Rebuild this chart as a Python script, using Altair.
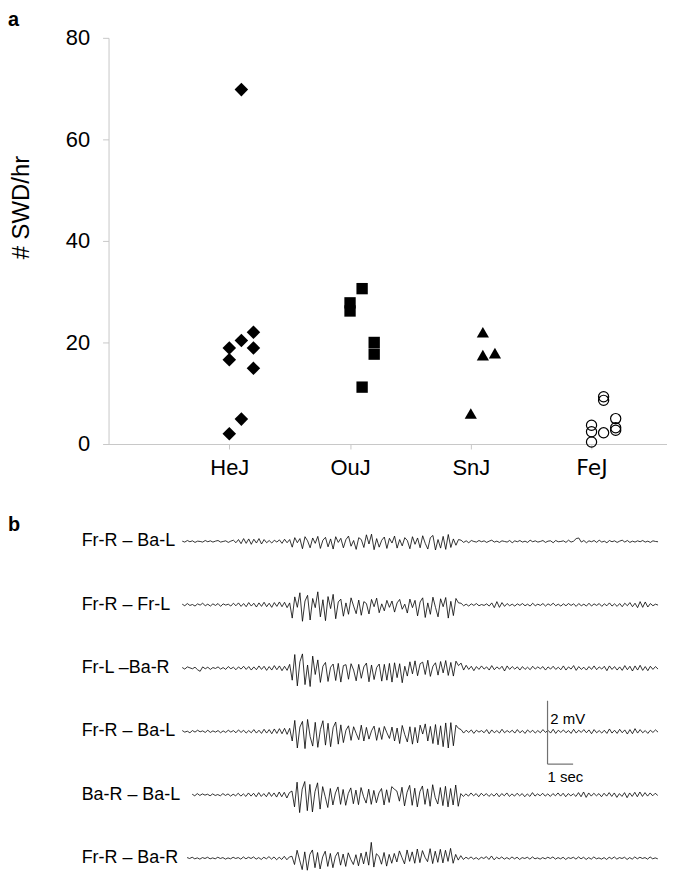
import altair as alt
import pandas as pd

# ---------------- panel a data ----------------
strains = ["HeJ", "OuJ", "SnJ", "FeJ"]
hej_swd = [69.8, 18.9, 20.4, 22.0, 16.6, 18.9, 14.9, 4.9, 2.0]
hej_jit = [0.1, 0.0, 0.1, 0.2, 0.0, 0.2, 0.2, 0.1, 0.0]
ouj_swd = [30.6, 27.8, 26.2, 20.0, 17.7, 11.2]
ouj_jit = [0.1, 0.0, 0.0, 0.2, 0.2, 0.1]
snj_swd = [22.0, 17.5, 17.9, 6.0]
snj_jit = [0.1, 0.1, 0.2, 0.0]
fej_swd = [9.3, 8.6, 5.0, 3.2, 2.7, 2.2, 3.7, 2.4, 0.4]
fej_jit = [0.1, 0.1, 0.2, 0.2, 0.2, 0.1, 0.0, 0.0, 0.0]

y_ticks = [0, 20, 40, 60, 80]

# ---------------- panel b data (EEG, microvolts, 10 samples / s) ----------------
channel_labels = ["Fr-R – Ba-L", "Fr-R – Fr-L", "Fr-L –Ba-R",
                  "Fr-R – Ba-L", "Ba-R – Ba-L", "Fr-R – Ba-R"]
channel_start_s = [0.0, 0.0, 0.0, 0.0, 0.39, 0.19]
sample_interval_s = 0.1

trace1 = [
    10, -20, 30, -10, 20, -30, 10, 0, -20, 30,
    -10, 20, -20, 10, 30, -20, 0, 20, -30, 10,
    40, -40, 60, -70, 90, -60, 80, -90, 70, -50,
    90, -80, 60, -40, 30, -50, 40, -20, 50, -60,
    70, -40,
    60, -180, 120, -40, 90, -230, 150, 20, -200, 110,
    -60, 160, -220, 40, 130, -170, 80, -240, 150, -30,
    100, -200, 60, 170, -150, 30, -250, 120, 60, -190,
    210, -80, 230, -260, 90, -180, 40, 140, -220, 100,
    -50, 170, -210, 60, -140, 120, 30, -230, 150, -90,
    110, -200, 180, -60, -240, 120, 190, -270, 60, -210,
    160, -250, 220, -190, 80, -120, 60,
    40, -30, 20, -40, 30, 0, -20, 30, -10, 20,
    -30, 10, 40, -20, 10, -30, 20, 0, -20, 30,
    -40, 20, -10, 30, -20, 10, -30, 40, -10, 20,
    -20, 0, 30, -30, 10, 20, -40, 30, -10, 0,
    20, -30, 40, -20, 10, 90, 110, -20, 30, -40,
    20, -10, 30, -30, 40, -20, 10, -40, 30, -10,
    20, -30, 10, 40, -20, 30, -30, 10, -20, 20,
    -10, 30, -20, 10, -30, 20, 0, -10,
]
trace2 = [
    20, -30, 40, -20, 10, -40, 30, -10, 50, -30,
    20, -40, 30, -20, 40, -50, 30, -10, 20, -40,
    50, -30, 60, -50, 40, -60, 70, -40, 50, -70,
    60, -50, 80, -60, 50, -80, 70, -50, 90, -60,
    80, -90,
    60, -420, 250, -80, 380, -520, 120, 300, -480, 200,
    -90, 410, -380, 160, -500, 260, -120, 330, -440, 90,
    180, -360, 60, -300, 220, -40, -280, 150, -330, 100,
    40, -290, 170, -60, 210, -250, 30, -190, 140, -80,
    120, -230, 60, 170, -140, 20, -260, 180, -90, 140,
    -350, 90, 220, -400, 60, -300, 240, -80, -380, 190,
    -60, 230, -420, 110, -340, 200, 60,
    50, -30, 20, -40, 30, -20, 40, -30, 10, -20,
    30, -40, 60, -90, 100, -80, 70, -50, 40, -30,
    20, -40, 30, -20, 40, -30, 20, -40, 50, -30,
    20, -20, 40, -40, 30, -20, 50, -30, 20, -40,
    30, -30, 40, -20, 30, -50, 40, -30, 20, -40,
    50, -40, 30, -20, 40, -50, 30, -30, 60, -40,
    30, -50, 40, -60, 50, -30, 70, -60, 50, -90,
    100, -80, 90, -70, 40, -30, 20, -10,
]
trace3 = [
    20, -30, 40, 10, -20, 30, -50, -100, 40, -20,
    30, -40, 20, -10, 40, -30, 20, -40, 50, -20,
    30, -50, 40, -30, 60, -40, 50, -60, 40, -50,
    70, -40, 60, -70, 50, -60, 80, -50, 70, -80,
    60, -70,
    120, -380, 430, -560, 200, 450, -520, 100, -580, 380,
    -200, 260, -450, 60, 180, -420, 30, 130, -390, 150,
    -440, 80, 110, -350, 140, -60, -400, 120, -320, 40,
    160, -430, 100, -360, 20, 130, -410, 120, -380, 150,
    -440, 170, -300, 140, -460, 60, -250, 200, -180, 230,
    -240, 140, 190, -200, 250, -260, 60, 170, -220, 210,
    -150, 240, -230, 180, -250, 220, 80,
    160, -60, 90, -40, 60, -80, 50, -40, 70, -30,
    40, -60, 80, -50, 40, -30, 60, -90, 70, -40,
    50, -30, 40, -60, 50, -40, 30, -50, 60, -30,
    40, -20, 50, -60, 40, -30, 60, -40, 30, -50,
    70, -60, 40, -30, 80, -70, 50, -40, 30, -60,
    50, -40, 70, -50, 40, -30, 60, -80, 70, -40,
    50, -60, 40, -70, 80, -50, 60, -90, 70, -60,
    90, -70, 50, -80, 60, -40, 50, -30,
]
trace4 = [
    30, -20, 10, -40, 30, -20, 40, -10, 20, -30,
    40, -30, 20, -20, 30, -40, 20, -30, 40, -20,
    30, -40, 50, -30, 40, -50, 30, -40, 60, -50,
    40, -60, 70, -50, 60, -70, 80, -60, 90, -70,
    100, -90,
    100, -300, 350, -520, 140, 320, -540, 380, -160, -460,
    290, -500, 60, 340, -430, 260, -480, 120, 300, -400,
    210, -350, 40, 180, -280, 150, -60, -260, 200, -300,
    130, -240, 20, 170, -280, 120, -250, 160, -40, -220,
    140, -300, 110, -380, 190, -100, -330, 150, -400, 130,
    -360, 200, -80, 240, -300, 160, -380, 220, -420, 180,
    -480, 270, -520, 280, -450, 200, 100,
    60, -50, 40, -30, 50, -60, 40, -20, 30, -40,
    60, -70, 50, -40, 30, -50, 70, -40, 30, -30,
    40, -50, 60, -40, 30, -60, 50, -30, 40, -50,
    30, -40, 60, -30, 40, -50, 70, -60, 40, -30,
    50, -40, 30, -60, 70, -50, 40, -30, 60, -40,
    50, -70, 60, -40, 30, -50, 40, -60, 80, -50,
    40, -60, 70, -40, 50, -80, 60, -70, 90, -50,
    60, -40, 30, -60, 40, -30, 50, -20,
]
trace5 = [
    20, -30, 40, -20, 30, -10, 20, -30, 30, -20,
    10, -30, 40, -20, 30, -40, 20, -30, 50, -40,
    30, -50, 60, -40, 50, -60, 70, -50, 40, -60,
    80, -50, 60, -70, 90, -60, 80, -100, 70,
    120, -380, 400, -560, 180, 420, -500, 330, -540, 100,
    380, -450, 260, -60, -400, 200, -320, 60, 250, -300,
    170, -330, 40, 220, -280, 150, -310, 230, -60, -260,
    180, -300, 140, -250, 60, 200, -320, 160, -240, 260,
    180, 120, -200, 240, -350, 80, 300, -330, 210, -380,
    100, 280, -300, 190, -360, 320, -90, -290, 230, -340,
    270, -380, 200, -320, 310, -360,
    40, -50, 30, -40, 60, -30, 40, -60, 50, -30,
    40, -50, 30, -40, 50, -60, 40, -30, 60, -50,
    30, -40, 50, -30, 40, -60, 30, -50, 70, -40,
    30, -30, 50, -40, 30, -50, 40, -30, 60, -40,
    50, -60, 40, -30, 30, -50, 70, -60, 90, -80,
    60, -40, 50, -30, 40, -60, 50, -40, 70, -50,
    60, -80, 40, -50, 70, -90, 60, -50, 80, -60,
    90, -50, 70, -40, 60, -30, 50, -20,
]
trace6 = [
    20, -10, 30, -20, 10, -30, 20, -10, 30, -20,
    10, -20, 30, -10, 20, -30, 10, -20, 30, -10,
    20, -30, 40, -20, 30, -10, 40, -30, 20, -40,
    30, -20, 50, -30, 40, -50, 30, -40, 60, -50,
    40,
    60, -200, 250, -60, -360, 200, -380, 120, 260, -300,
    180, -340, 40, 220, -260, 150, -300, 60, 190, -220,
    130, -260, 170, -40, -200, 110, -240, 160, -180, 200,
    -220, 500, -280, 140, 60, -190, 180, -250, 120, -160,
    150, -120, 230, 20, -180, 260, -100, 200, -160, 290,
    -140, 240, 30, -110, 300, -170, 220, -130, 280, -150,
    250, -100, 310, -160, 120, -60,
    80, -40, 30, -20, 40, -30, 20, -40, 30, -10,
    50, -40, 70, -50, 30, -20, 40, -30, 20, -30,
    40, -20, 30, -40, 20, -10, 30, -30, 40, -20,
    10, -30, 20, -20, 30, -10, 40, -30, 20, -20,
    30, -40, 20, -10, 30, -30, 40, -20, 30, -40,
    20, -30, 40, -20, 10, -30, 20, -40, 30, -20,
    40, -30, 20, -10, 30, -40, 20, -30, 40, -20,
    30, -10, 20, -30, 40, -20, 10, -20,
]
traces = [trace1, trace2, trace3, trace4, trace5, trace6]
channel_spacing_mv = 2.0

# scale bar: 2 mV x 1 s
bar_t0 = 14.28
bar_top_mv = -5.03
bar_len_mv = 2.0
bar_len_s = 1.0

FONT = "Liberation Sans"
AXIS_GRAY = "#c8c8c8"

# ---------------- panel a ----------------
def group_df(vals, jit, idx):
    return pd.DataFrame({"pos": [idx + 1 + j for j in jit], "swd": vals})

x_scale = alt.Scale(domain=[0, 4.625], nice=False, zero=False)
y_scale = alt.Scale(domain=[0, 80], nice=False)

x_axis = alt.Axis(
    values=[1, 2, 3, 4],
    labelExpr="['', 'HeJ', 'OuJ', 'SnJ', 'FeJ'][datum.value]",
    title=None, grid=False, domainColor=AXIS_GRAY, tickColor=AXIS_GRAY,
    tickSize=5, labelPadding=9, labelFontSize=22, labelColor="black",
    labelFont={"condition": {"test": "datum.value == 4", "value": "DejaVu Sans"},
               "value": FONT},
)
y_axis = alt.Axis(
    values=y_ticks, title="# SWD/hr", grid=False, domainColor=AXIS_GRAY,
    tickColor=AXIS_GRAY, tickSize=6, labelPadding=13, labelFontSize=22,
    labelColor="black", titleFontSize=24, titleFontWeight="normal",
    titleColor="black", titleAngle=270, titleX=-75, titleY=170,
)

base_a = alt.Chart(group_df(hej_swd, hej_jit, 0)).mark_point(
    shape="diamond", filled=True, color="black", size=185, opacity=1
).encode(
    x=alt.X("pos:Q", scale=x_scale, axis=x_axis),
    y=alt.Y("swd:Q", scale=y_scale, axis=y_axis),
)
ouj_layer = alt.Chart(group_df(ouj_swd, ouj_jit, 1)).mark_point(
    shape="square", filled=True, color="black", size=130, opacity=1
).encode(x="pos:Q", y="swd:Q")
snj_layer = alt.Chart(group_df(snj_swd, snj_jit, 2)).mark_point(
    shape="triangle-up", filled=True, color="black", size=150, opacity=1
).encode(x="pos:Q", y="swd:Q")
fej_layer = alt.Chart(group_df(fej_swd, fej_jit, 3)).mark_point(
    shape="circle", filled=False, color="black", size=105, strokeWidth=1.2, opacity=1
).encode(x="pos:Q", y="swd:Q")
label_a = alt.Chart(pd.DataFrame({"t": ["a"]})).mark_text(
    align="left", baseline="alphabetic", fontSize=20, fontWeight="bold",
    font=FONT, color="black"
).encode(text="t:N", x=alt.value(-101), y=alt.value(-12))

panel_a = alt.layer(base_a, ouj_layer, snj_layer, fej_layer, label_a).properties(
    width=561, height=408
)

# ---------------- panel b ----------------
rows = []
for k, (lab, t0, tr) in enumerate(zip(channel_labels, channel_start_s, traces)):
    off = -channel_spacing_mv * k
    for i, v in enumerate(tr):
        rows.append({"ch": k, "t": t0 + i * sample_interval_s, "mv": off + v / 1000.0})
eeg = pd.DataFrame(rows)

tx = alt.Scale(domain=[-2.88, 18.95], nice=False, zero=False)
ty = alt.Scale(domain=[-10.5, 1.6], nice=False, zero=False)

lines = alt.Chart(eeg).mark_line(color="black", strokeWidth=0.8).encode(
    x=alt.X("t:Q", scale=tx, axis=None),
    y=alt.Y("mv:Q", scale=ty, axis=None),
    detail="ch:N",
    order="t:Q",
)

lab_df = pd.DataFrame({
    "label": channel_labels,
    "mv": [-channel_spacing_mv * k for k in range(len(channel_labels))],
})
labels = alt.Chart(lab_df).mark_text(
    align="left", baseline="middle", fontSize=18, font=FONT, color="black"
).encode(text="label:N", x=alt.value(-27), y=alt.Y("mv:Q", scale=ty, axis=None))

bar_df = pd.DataFrame({
    "t": [bar_t0, bar_t0],
    "t2": [bar_t0, bar_t0 + bar_len_s],
    "y": [bar_top_mv, bar_top_mv - bar_len_mv],
    "y2": [bar_top_mv - bar_len_mv, bar_top_mv - bar_len_mv],
})
bar = alt.Chart(bar_df).mark_rule(color="#707070", strokeWidth=1.2).encode(
    x=alt.X("t:Q", scale=tx, axis=None), x2="t2:Q",
    y=alt.Y("y:Q", scale=ty, axis=None), y2="y2:Q",
)
bar_text = alt.Chart(pd.DataFrame({
    "t": [bar_t0 + 0.11, bar_t0],
    "y": [bar_top_mv - 0.73, bar_top_mv - 2.55],
    "s": ["2 mV", "1 sec"],
})).mark_text(
    align="left", baseline="alphabetic", fontSize=15, font=FONT, color="black"
).encode(x=alt.X("t:Q", scale=tx, axis=None), y=alt.Y("y:Q", scale=ty, axis=None), text="s:N")

label_b = alt.Chart(pd.DataFrame({"t": ["b"]})).mark_text(
    align="left", baseline="alphabetic", fontSize=20, fontWeight="bold",
    font=FONT, color="black"
).encode(text="t:N", x=alt.value(-101), y=alt.value(40))

panel_b = alt.layer(lines, labels, bar, bar_text, label_b).properties(
    width=561, height=385
)

chart = alt.vconcat(panel_a, panel_b, spacing=12).properties(
    padding={"top": 0, "left": 0, "right": 0, "bottom": 0}
).configure(font=FONT).configure_view(stroke="transparent", strokeWidth=0)

chart.save("out.html", embed_options={"renderer": "svg", "actions": False})
